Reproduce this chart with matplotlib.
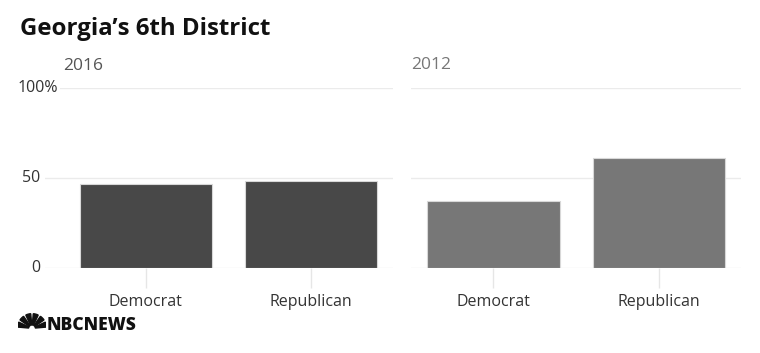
import matplotlib
matplotlib.use("Agg")
import matplotlib.pyplot as plt
from matplotlib.patches import Wedge

plt.rcParams['font.family'] = ['Open Sans', 'DejaVu Sans']

title = "Georgia\u2019s 6th District"
parties = ["Democrat", "Republican"]
years = ["2016", "2012"]
votes_2016 = [46.8, 48.3]
votes_2012 = [37.5, 60.8]
yticks = [0, 50, 100]
ytick_labels = ["0", "50", "100%"]
bar_colors = ["#484848", "#777777"]
year_colors = ["#555555", "#777777"]

W, H = 760, 353
fig = plt.figure(figsize=(W / 100, H / 100), dpi=100)

def px(x, y, w, h):
    return [x / W, (H - y - h) / H, w / W, h / H]

axes = [fig.add_axes(px(45, 87.7, 348, 180.6)),
        fig.add_axes(px(411, 87.7, 330, 180.6))]
xlims = [(-0.61, 1.5), (-0.5, 1.5)]

for ax, vals, color, xl in zip(axes, [votes_2016, votes_2012], bar_colors, xlims):
    ax.bar(range(len(parties)), vals, width=0.8, color=color,
           edgecolor="#d8d8d8", linewidth=0.8, zorder=3)
    ax.set_xlim(*xl)
    ax.set_ylim(0, 100)
    ax.set_yticks(yticks)
    ax.set_yticklabels([])
    ax.tick_params(axis="y", length=0)
    ax.grid(axis="y", color="#ebebeb", linewidth=1, zorder=0)
    ax.set_xticks(range(len(parties)))
    ax.set_xticklabels(parties, fontsize=11.5, color="#333333")
    ax.tick_params(axis="x", length=14.4, color="#e6e6e6", width=1, pad=4)
    for s in ax.spines.values():
        s.set_visible(False)

# y tick labels on the left panel only
ytrans = axes[0].get_yaxis_transform()
for v, lab in zip(yticks, ytick_labels):
    if lab.endswith("%"):
        axes[0].text((18 - 45) / 348, v, lab, transform=ytrans,
                     ha="left", va="center", fontsize=11.5, color="#333333",
                     bbox=dict(facecolor="white", edgecolor="none", pad=1), zorder=5)
    else:
        axes[0].text((40 - 45) / 348, v, lab, transform=ytrans,
                     ha="right", va="center", fontsize=11.5, color="#333333")

fig.text(20 / W, 1 - 35 / H, title, fontsize=17.3, fontweight="bold",
         color="#111111", ha="left", va="baseline")
fig.text(63 / W, 1 - 70 / H, years[0], fontsize=12.5, color=year_colors[0],
         ha="left", va="baseline")
fig.text(411 / W, 1 - 69 / H, years[1], fontsize=12.5, color=year_colors[1],
         ha="left", va="baseline")

# NBC News logo: small peacock fan + wordmark
logo = fig.add_axes(px(18, 313, 28, 16))
logo.set_xlim(-1.05, 1.05)
logo.set_ylim(-0.05, 1.15)
logo.set_aspect("equal")
logo.axis("off")
for i in range(6):
    a0 = i * 30
    logo.add_patch(Wedge((0, 0), 1.1, a0 + 5, a0 + 25, width=0.85, color="#111111"))
fig.text(47 / W, 1 - 330 / H, "NBCNEWS", fontsize=12.5, fontweight="heavy",
         color="#111111", ha="left", va="baseline")

fig.savefig("out.png", dpi=100)
